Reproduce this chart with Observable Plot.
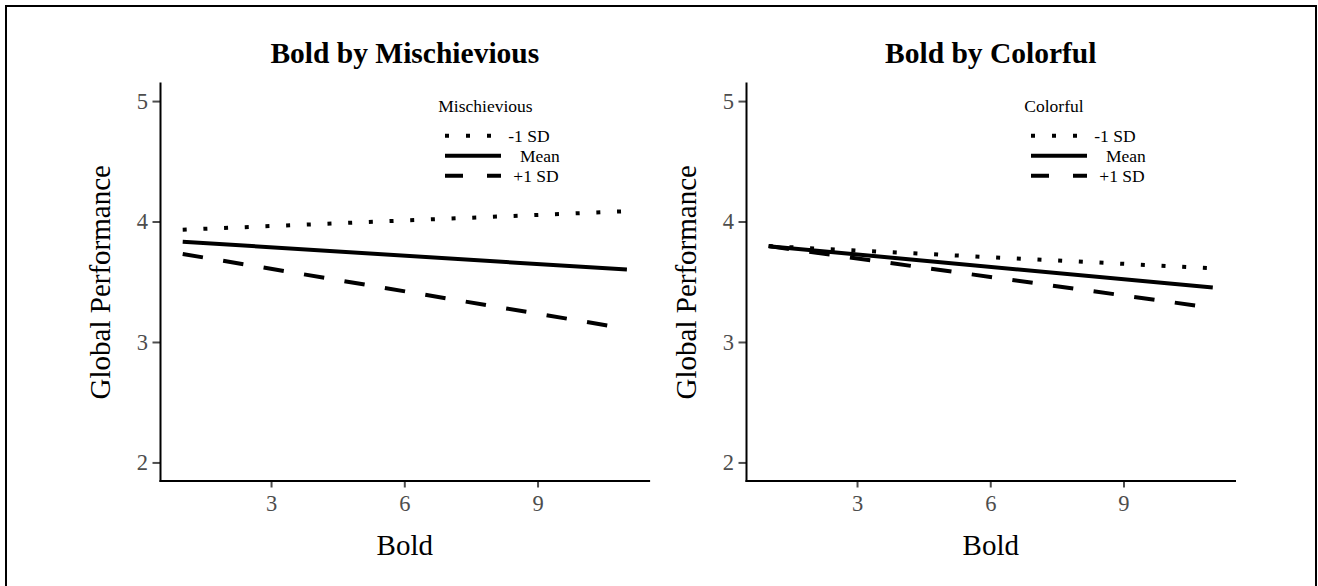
<!DOCTYPE html>
<html><head><meta charset="utf-8">
<script src="https://cdn.jsdelivr.net/npm/d3@7"></script>
<script src="https://cdn.jsdelivr.net/npm/@observablehq/plot@0.6"></script>
<style>
body{margin:0;background:#fff;}
#wrap{position:relative;width:1318px;height:586px;overflow:hidden;background:#fff;}
#border{position:absolute;left:5px;top:5px;width:1312px;height:700px;border:2px solid #000;box-sizing:border-box;}
.panel{position:absolute;top:0;}
</style></head><body>
<div id="wrap"><div id="border"></div><div id="p1" class="panel" style="left:0px"></div><div id="p2" class="panel" style="left:659px"></div></div>
<script>
// ---- data ----
const boldX = [1, 11];
const levels = ["-1 SD", "Mean", "+1 SD"];
const mischLow  = [3.936, 4.090];
const mischMean = [3.836, 3.605];
const mischHigh = [3.735, 3.114];
const colorLow  = [3.800, 3.616];
const colorMean = [3.799, 3.456];
const colorHigh = [3.800, 3.287];
const xTicks = [3, 6, 9];
const yTicks = [2, 3, 4, 5];
const titles = ["Bold by Mischievious", "Bold by Colorful"];
const moderators = ["Mischievious", "Colorful"];
const xLabel = "Bold";
const yLabel = "Global Performance";

const FONT = "'Liberation Serif', 'Times New Roman', serif";
const lineDash = ["4 16.7", null, "20.5 20.5"];
const keyDash = ["4 17", null, "18 24"];
const labelDx = [348.3, 360, 353.3];

function rowsFor(series) {
  const out = [];
  series.forEach((vals, i) => boldX.forEach((x, j) => out.push({x, y: vals[j], level: levels[i]})));
  return out;
}

function panel(elId, series, title, mod, ml, mr) {
  const W = 659, H = 586, mt = 83, mb = 105.5;
  const rows = rowsFor(series);
  const plot = Plot.plot({
    width: W, height: H,
    marginLeft: ml, marginRight: mr, marginTop: mt, marginBottom: mb,
    style: {fontFamily: FONT, fontSize: "22px", background: "transparent", overflow: "visible"},
    x: {domain: [0.5, 11.5], ticks: xTicks, label: null},
    y: {domain: [1.85, 5.15], ticks: yTicks, label: null},
    marks: [
      Plot.axisX({ticks: xTicks, tickFormat: d3.format("d"), tickSize: 7, tickPadding: 7, fontSize: 22.5, color: "#4d4d4d", strokeWidth: 2, label: null}),
      Plot.axisY({ticks: yTicks, tickFormat: d3.format("d"), tickSize: 7.5, tickPadding: 5, fontSize: 22.5, color: "#4d4d4d", strokeWidth: 2, label: null}),
      Plot.frame({anchor: "left", stroke: "black", strokeWidth: 2}),
      Plot.frame({anchor: "bottom", stroke: "black", strokeWidth: 2}),
      ...levels.map((lv, i) => Plot.line(rows.filter(d => d.level === lv), {
        x: "x", y: "y", stroke: "black", strokeWidth: 4,
        strokeDasharray: lineDash[i] || undefined, strokeLinecap: "butt"
      })),
      Plot.text([title], {frameAnchor: "top", dy: -30, textAnchor: "middle", lineAnchor: "middle", fontSize: 29.5, fontWeight: "bold", fill: "black"}),
      Plot.text([xLabel], {frameAnchor: "bottom", dy: 65, textAnchor: "middle", lineAnchor: "middle", fontSize: 29, fill: "black"}),
      Plot.text([yLabel], {frameAnchor: "left", dx: -60, rotate: -90, textAnchor: "middle", lineAnchor: "middle", fontSize: 29, fill: "black"})
    ]
  });
  const svg = d3.select(plot);
  const g = svg.append("g").attr("transform", `translate(${ml},${mt})`)
    .attr("font-family", FONT).attr("font-size", 17.5).attr("fill", "black")
    .attr("text-anchor", "start");
  g.append("text").attr("x", 278.3).attr("y", 22.7).attr("dy", "0.35em").text(mod);
  levels.forEach((lv, i) => {
    const cy = 52.7 + 20 * i;
    const ln = g.append("line").attr("x1", 285).attr("x2", 341).attr("y1", cy).attr("y2", cy)
      .attr("stroke", "black").attr("stroke-width", 4);
    if (keyDash[i]) ln.attr("stroke-dasharray", keyDash[i]);
    g.append("text").attr("x", labelDx[i]).attr("y", cy).attr("dy", "0.35em").text(lv);
  });
  document.getElementById(elId).appendChild(plot);
}

panel("p1", [mischLow, mischMean, mischHigh], titles[0], moderators[0], 160, 10.4);
panel("p2", [colorLow, colorMean, colorHigh], titles[1], moderators[1], 87, 83.5);
</script>
</body></html>
